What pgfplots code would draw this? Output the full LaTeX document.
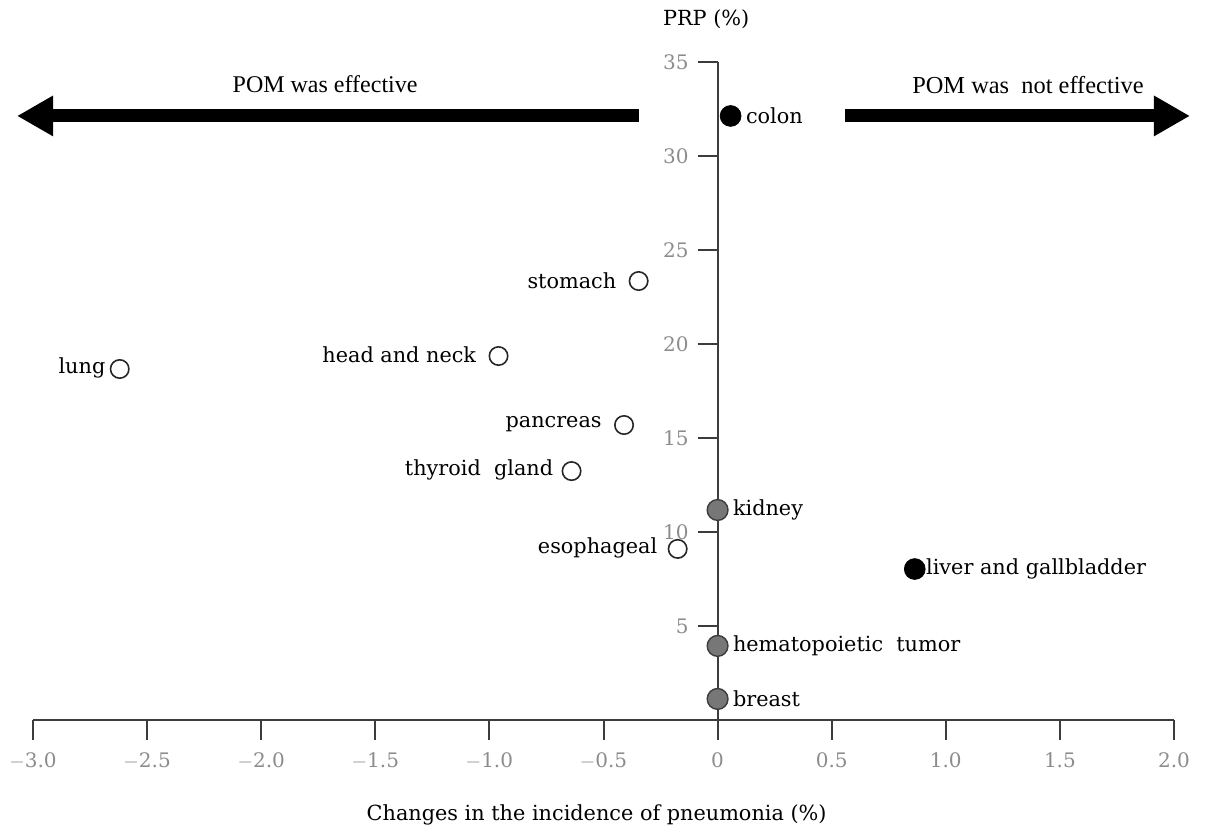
\documentclass[border=0pt]{standalone}
\usepackage{fontspec}
\setmainfont{DejaVu Serif}
\newfontfamily\timesfont{Liberation Serif}
\usepackage{pgfplots}
\pgfplotsset{compat=1.18}
\usetikzlibrary{arrows.meta}
\definecolor{axisgray}{HTML}{3C3C3C}
\definecolor{tickgray}{HTML}{8C8C8C}
\definecolor{markgray}{HTML}{777777}

\pgfplotstableread{
x y
-0.346 23.35
-0.96 19.36
-2.62 18.67
-0.41 15.69
-0.64 13.24
-0.175 9.10
}\opendata
\pgfplotstableread{
x y
0.057 32.13
0.864 8.03
}\blackdata
\pgfplotstableread{
x y
0 11.17
0 3.94
0 1.12
}\graydata

\begin{document}
\begin{tikzpicture}
\begin{axis}[
  scale only axis, width=570.5pt, height=329pt,
  xmin=-3, xmax=2, ymin=0, ymax=35,
  axis lines=middle,
  axis line style={-, color=axisgray, line width=1pt},
  clip=false,
  xtick={-3,-2.5,-2,-1.5,-1,-0.5,0,0.5,1,1.5,2},
  xticklabels={{$-$3.0},{$-$2.5},{$-$2.0},{$-$1.5},{$-$1.0},{$-$0.5},0,0.5,1.0,1.5,2.0},
  ytick={5,10,15,20,25,30,35},
  yticklabels={5,10,15,20,25,30,35},
  hide obscured x ticks=false, hide obscured y ticks=false,
  tick align=outside,
  major tick length=10pt,
  tick style={axisgray, line width=1pt},
  tick label style={font=\fontsize{10}{12}\selectfont, text=tickgray},
  xticklabel style={yshift=-3pt},
  yticklabel style={xshift=-1pt},
]
\addplot[only marks, mark=*, mark size=4.6pt, mark options={fill=white, draw=black!85, line width=0.8pt}] table {\opendata};
\addplot[only marks, mark=*, mark size=5.2pt, mark options={fill=black, draw=black}] table {\blackdata};
\addplot[only marks, mark=*, mark size=5.2pt, mark options={fill=markgray, draw=axisgray, line width=0.7pt}] table {\graydata};

\tikzset{lbl/.style={font=\fontsize{10.4}{12}\selectfont, inner sep=0pt, text=black}}
\node[lbl, anchor=west] at (axis cs:0.057,32.13) [xshift=7.5pt] {colon};
\node[lbl, anchor=east] at (axis cs:-0.346,23.35) [xshift=-11pt] {stomach};
\node[lbl, anchor=east] at (axis cs:-0.96,19.36) [xshift=-11pt,yshift=0.5pt] {head and neck};
\node[lbl, anchor=east] at (axis cs:-2.62,18.67) [xshift=-7pt,yshift=0.5pt] {lung};
\node[lbl, anchor=east] at (axis cs:-0.41,15.69) [xshift=-11pt,yshift=0.5pt] {pancreas};
\node[lbl, anchor=east] at (axis cs:-0.64,13.24) [xshift=-9pt,yshift=0.5pt] {thyroid\ \ gland};
\node[lbl, anchor=west] at (axis cs:0,11.17) [xshift=7.5pt] {kidney};
\node[lbl, anchor=east] at (axis cs:-0.175,9.10) [xshift=-10pt,yshift=0.5pt] {esophageal};
\node[lbl, anchor=west] at (axis cs:0.864,8.03) [xshift=5.5pt] {liver and gallbladder};
\node[lbl, anchor=west] at (axis cs:0,3.94) [xshift=7.5pt] {hematopoietic\ \ tumor};
\node[lbl, anchor=west] at (axis cs:0,1.12) [xshift=7.5pt] {breast};

\draw[line width=6.5pt, -{Triangle[length=18pt,width=19pt]}] (axis cs:-0.346,32.13) -- (axis cs:-3.07,32.13);
\draw[line width=6.5pt, -{Triangle[length=18pt,width=19pt]}] (axis cs:0.56,32.13) -- (axis cs:2.07,32.13);
\node[font=\timesfont\fontsize{12}{14}\selectfont] at (axis cs:-1.72,33.8) {POM was effective};
\node[font=\timesfont\fontsize{12.2}{14}\selectfont] at (axis cs:1.36,33.8) {POM was\ \ not effective};

\node[lbl] at (axis cs:-0.05,35) [yshift=21.5pt] {PRP (\%)};
\node[lbl] at (axis cs:-0.53,0) [yshift=-47.5pt] {Changes\ in\ the\ incidence\ of\ pneumonia\ (\%)};

\path ([xshift=-16.5pt,yshift=-56pt]rel axis cs:0,0) rectangle ([xshift=20.5pt,yshift=31pt]rel axis cs:1,1);
\end{axis}
\end{tikzpicture}
\end{document}
